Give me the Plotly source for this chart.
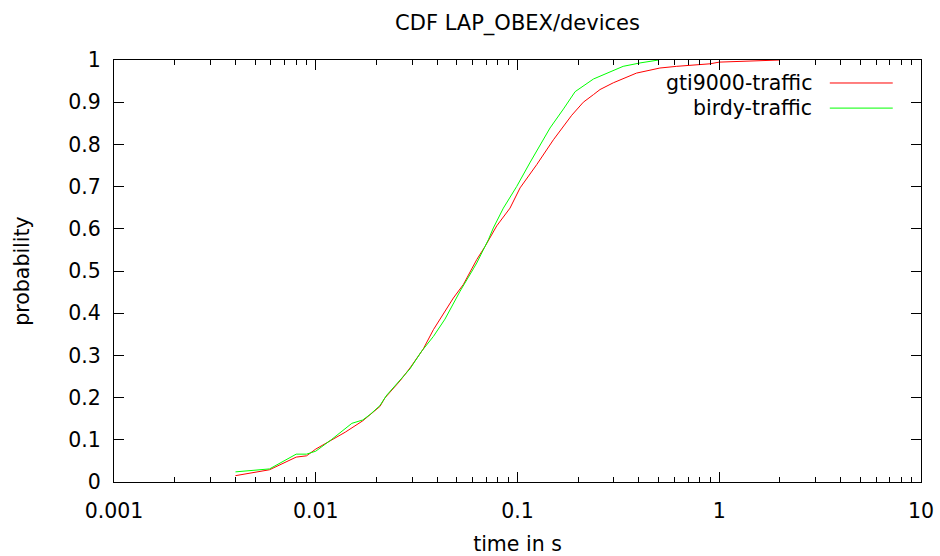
import plotly.graph_objects as go

# gti9000-traffic CDF
gti_x = [0.004, 0.0059, 0.0080, 0.0090, 0.0100, 0.0120, 0.0140, 0.0171, 0.0208, 0.0220, 0.0262, 0.0293,
         0.0341, 0.0383, 0.0437, 0.0481, 0.0539, 0.0604, 0.0628, 0.0690, 0.0789, 0.0918, 0.1030, 0.1245,
         0.1507, 0.1857, 0.2120, 0.2380, 0.2565, 0.2985, 0.3890, 0.5080, 0.6150, 0.9000, 1.0000, 2.0000]
gti_y = [0.015, 0.029, 0.059, 0.062, 0.078, 0.100, 0.118, 0.145, 0.179, 0.199, 0.240, 0.270,
         0.315, 0.361, 0.404, 0.436, 0.468, 0.510, 0.527, 0.558, 0.607, 0.649, 0.697, 0.752,
         0.811, 0.869, 0.900, 0.918, 0.930, 0.946, 0.969, 0.981, 0.985, 0.991, 0.995, 1.000]

# birdy-traffic CDF
birdy_x = [0.004, 0.0059, 0.0080, 0.0090, 0.0100, 0.0120, 0.0151, 0.0171, 0.0186, 0.0208, 0.0225,
           0.0257, 0.0293, 0.0335, 0.0383, 0.0437, 0.0490, 0.0519, 0.0604, 0.0628, 0.0717, 0.0759,
           0.0851, 0.0990, 0.1150, 0.1245, 0.1450, 0.1690, 0.1930, 0.2380, 0.2985, 0.3340, 0.4050,
           0.5000]
birdy_y = [0.024, 0.031, 0.066, 0.066, 0.073, 0.101, 0.139, 0.147, 0.160, 0.181, 0.206,
           0.238, 0.268, 0.310, 0.345, 0.386, 0.432, 0.452, 0.505, 0.519, 0.574, 0.602,
           0.649, 0.700, 0.756, 0.785, 0.839, 0.884, 0.925, 0.955, 0.975, 0.985, 0.993,
           1.000]

series_names = ["gti9000-traffic", "birdy-traffic"]
series_colors = ["#ff0000", "#00ff00"]

x_tickvals = [0.001, 0.01, 0.1, 1, 10]
x_ticktext = ["0.001", "0.01", "0.1", "1", "10"]

FONT = "DejaVu Sans"
FS = 20.5

fig = go.Figure()
for xs, ys, name, col in [(gti_x, gti_y, series_names[0], series_colors[0]),
                          (birdy_x, birdy_y, series_names[1], series_colors[1])]:
    fig.add_trace(go.Scatter(x=xs, y=ys, mode="lines", name=name,
                             line=dict(color=col, width=1), showlegend=False))

# gnuplot-style legend: text, then line sample on the right
leg_y = [0.9455, 0.886]
for name, col, yy in zip(series_names, series_colors, leg_y):
    fig.add_annotation(xref="paper", yref="paper", x=0.868, y=yy, text=name,
                       showarrow=False, xanchor="right", yanchor="middle",
                       font=dict(family=FONT, size=FS, color="black"))
    fig.add_shape(type="line", xref="paper", yref="paper", x0=0.887, x1=0.965,
                  y0=yy, y1=yy, line=dict(color=col, width=1))

fig.update_layout(
    width=940, height=556,
    margin=dict(l=114, r=19, t=60, b=74, autoexpand=False),
    paper_bgcolor="white", plot_bgcolor="white",
    font=dict(family=FONT, size=FS, color="black"),
    title=dict(text="CDF LAP_OBEX/devices", x=0.5, xref="paper", y=1 - 23 / 556,
               yref="container", xanchor="center", yanchor="middle",
               font=dict(family=FONT, size=21, color="black")),
    xaxis=dict(type="log", range=[-3, 1], tickmode="array", tickvals=x_tickvals,
               ticktext=x_ticktext, ticks="inside", ticklen=10, tickwidth=1,
               tickcolor="black", showline=True, linecolor="black", linewidth=1,
               mirror="ticks", showgrid=False, zeroline=False, automargin=False,
               ticklabelstandoff=10,
               minor=dict(dtick="D1", ticks="inside", ticklen=5, tickwidth=1,
                          tickcolor="black", showgrid=False),
               title=dict(text="time in s", standoff=19,
                          font=dict(family=FONT, size=FS))),
    yaxis=dict(range=[0, 1], dtick=0.1, ticks="inside", ticklen=10, tickwidth=1,
               tickcolor="black", showline=True, linecolor="black", linewidth=1,
               mirror="ticks", showgrid=False, zeroline=False, automargin=False,
               ticklabelstandoff=8,
               title=dict(text="probability", standoff=33,
                          font=dict(family=FONT, size=FS))),
)

fig.write_html("out.html")
